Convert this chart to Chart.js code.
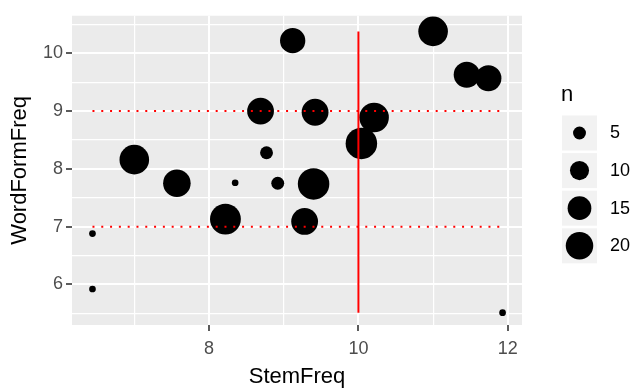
<!DOCTYPE html>
<html><head><meta charset="utf-8">
<script src="https://cdn.jsdelivr.net/npm/chart.js@4/dist/chart.umd.min.js"></script>
<style>html,body{margin:0;padding:0;background:#fff;}canvas{display:block;}</style>
</head><body>
<canvas id="c" width="633" height="389"></canvas>
<script>
// ---- data ----
const stemFreq     = [9.12, 11.00, 11.45, 11.74, 8.69, 9.42, 10.21, 10.04, 7.00, 8.77, 7.57, 8.35, 8.92, 9.40, 8.22, 9.28, 6.44, 6.44, 11.93];
const wordFormFreq = [10.22, 10.38, 9.63, 9.57, 9.00, 8.98, 8.89, 8.44, 8.16, 8.28, 7.75, 7.76, 7.75, 7.74, 7.13, 7.09, 6.88, 5.92, 5.51];
const nValues      = [17, 23, 18, 18, 19, 19, 23, 26, 23, 5, 20, 2, 5, 26, 25, 19, 2, 2, 2];
const xMajorTicks = [8, 10, 12];
const xMinorTicks = [7, 9, 11];
const yMajorTicks = [6, 7, 8, 9, 10];
const yMinorTicks = [5.5, 6.5, 7.5, 8.5, 9.5, 10.5];
const legendBreaks = [5, 10, 15, 20];
const refStem = [10];        // vertical solid line
const refWordForm = [7, 9];  // horizontal dotted lines

// size scale: diameter in px from n
function diameterOf(n) { return 0.5 + 6.2 * Math.sqrt(Math.max(n - 1, 0)); }

const FONT = '"Liberation Sans", Arial, sans-serif';
const points = stemFreq.map((x, i) => ({x: x, y: wordFormFreq[i], n: nValues[i]}));
const xMin = Math.min(...stemFreq), xMax = Math.max(...stemFreq);
const yMin = Math.min(...wordFormFreq), yMax = Math.max(...wordFormFreq);

const datasets = [];
refStem.forEach(v => datasets.push({
  type: 'line', data: [{x: v, y: yMin}, {x: v, y: yMax}],
  borderColor: '#FF0000', borderWidth: 2, pointRadius: 0, fill: false, order: 0
}));
refWordForm.forEach(v => datasets.push({
  type: 'line', data: [{x: xMin, y: v}, {x: xMax, y: v}],
  borderColor: '#FF0000', borderWidth: 2, borderDash: [2, 6.8], borderCapStyle: 'butt',
  pointRadius: 0, fill: false, order: 0
}));
datasets.push({
  type: 'scatter', data: points, backgroundColor: '#000', borderWidth: 0,
  pointRadius: ctx => diameterOf(ctx.raw.n) / 2, pointHoverRadius: ctx => diameterOf(ctx.raw.n) / 2,
  order: 1
});

const bgPlugin = {
  id: 'panelBg',
  beforeDraw(chart) {
    const {ctx, chartArea: a} = chart;
    ctx.save(); ctx.fillStyle = '#EBEBEB';
    ctx.fillRect(a.left, a.top, a.right - a.left, a.bottom - a.top);
    ctx.restore();
  }
};
const legendPlugin = {
  id: 'sizeLegend',
  afterDraw(chart) {
    const ctx = chart.ctx;
    ctx.save();
    ctx.fillStyle = '#000'; ctx.textAlign = 'left'; ctx.textBaseline = 'alphabetic';
    ctx.font = '22px ' + FONT;
    ctx.fillText('n', 561, 100.5);
    legendBreaks.forEach((b, i) => {
      const top = 115.5 + i * 37.6;
      ctx.fillStyle = '#F2F2F2'; ctx.fillRect(562, top, 35, 35);
      ctx.fillStyle = '#000'; ctx.beginPath();
      ctx.arc(579.5, top + 17.5, diameterOf(b) / 2, 0, Math.PI * 2); ctx.fill();
      ctx.font = '18px ' + FONT; ctx.textBaseline = 'middle';
      ctx.fillText(String(b), 610, top + 18);
    });
    ctx.restore();
  }
};

function axis(major, minor, min, max, title, isX) {
  return {
    type: 'linear', min: min, max: max,
    afterBuildTicks(scale) { scale.ticks = [...major, ...minor].sort((a, b) => a - b).map(v => ({value: v})); },
    afterFit(scale) { if (isX) scale.height = 64; else scale.width = 72; },
    border: {display: false},
    grid: {
      color: '#FFFFFF', drawTicks: true, tickLength: 6, tickWidth: 1.6,
      lineWidth: c => (c.tick && major.includes(c.tick.value)) ? 2 : 1.2,
      tickColor: c => (c.tick && major.includes(c.tick.value)) ? '#333333' : 'rgba(0,0,0,0)'
    },
    ticks: {
      autoSkip: false, maxRotation: 0, padding: isX ? 7 : 3, color: '#4D4D4D',
      font: {family: FONT, size: 18},
      callback: v => major.includes(v) ? String(v) : ''
    },
    title: {
      display: true, text: title, color: '#000',
      font: {family: FONT, size: 22, lineHeight: 1.1},
      padding: isX ? {top: 0, bottom: 0} : {top: 8, bottom: 0}
    }
  };
}

new Chart(document.getElementById('c'), {
  type: 'scatter',
  data: {datasets: datasets},
  options: {
    responsive: false, animation: false, events: [],
    layout: {padding: {top: 15, right: 111, left: 0, bottom: 0}},
    plugins: {legend: {display: false}, tooltip: {enabled: false}},
    scales: {
      x: axis(xMajorTicks, xMinorTicks, 6.166, 12.19, 'StemFreq', true),
      y: axis(yMajorTicks, yMinorTicks, 5.297, 10.651, 'WordFormFreq', false)
    }
  },
  plugins: [bgPlugin, legendPlugin]
});
</script>
</body></html>
